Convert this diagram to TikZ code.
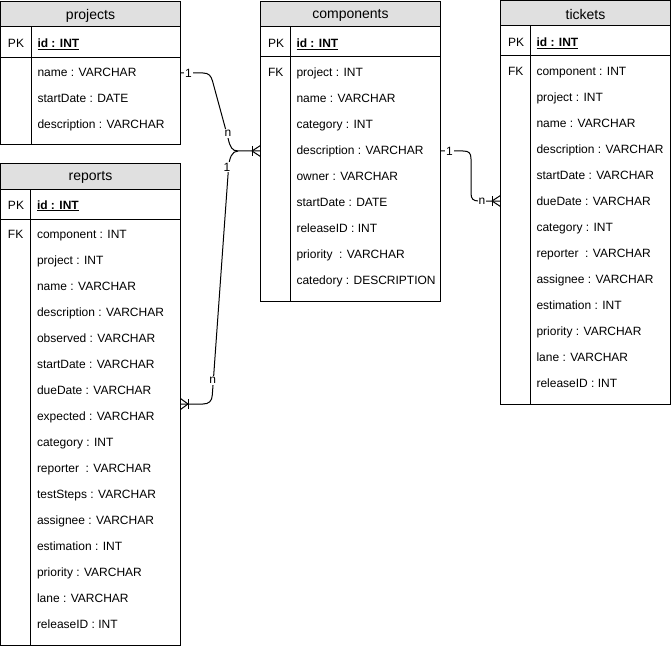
\documentclass[tikz,border=0pt]{standalone}
\usepackage{fontspec}
\setmainfont{Liberation Sans}
\definecolor{hdrgray}{HTML}{E0E0E0}
\newcommand\erfields[4]{%
  \foreach \t [count=\i from 0] in {#4}
    \node[fld] (#1-f\i) at (#2, #3+26*\i) {\t};}
\begin{document}
\begin{tikzpicture}[x=1pt,y=-1pt,line width=1pt,
  tbl/.style={draw, rectangle, inner sep=0pt, outer sep=0pt, anchor=north west},
  hdr/.style={draw, fill=hdrgray},
  ttl/.style={font=\fontsize{14}{16}\selectfont, inner sep=0pt},
  fld/.style={font=\fontsize{12}{14}\selectfont, anchor=base west, inner sep=0pt},
  keyl/.style={font=\fontsize{12}{14}\selectfont, anchor=base west, inner sep=0pt},
  lbl/.style={font=\fontsize{12}{14}\selectfont, fill=white, inner sep=1pt},
  rel/.style={draw, line width=1pt}]
\useasboundingbox (0,0) rectangle (671,647);

% ---------- projects ----------
\node[tbl, minimum width=180pt, minimum height=143.5pt] (projects) at (0.5,1.5) {};
\draw[hdr] (0.5,1.5) rectangle (180.5,27);
\draw (0.5,57.5) -- (180.5,57.5);
\draw (31,27) -- (31,145);
\node[ttl] (projects-t) at (90.5,15.5) {projects};
\node[keyl] (projects-pk) at (7.5,48) {PK};
\node[keyl] (projects-id) at (37,48) {\underline{\textbf{id : INT}}};
\erfields{projects}{37}{77}{name : VARCHAR,startDate : DATE,description : VARCHAR}

% ---------- components ----------
\node[tbl, minimum width=180pt, minimum height=299.5pt] (components) at (260.5,1.5) {};
\draw[hdr] (260.5,1.5) rectangle (440.5,27);
\draw (260.5,57) -- (440.5,57);
\draw (290,27) -- (290,301);
\node[ttl] (components-t) at (350.5,15.5) {components};
\node[keyl] (components-pk) at (267.5,47.5) {PK};
\node[keyl] (components-fk) at (267.5,76.5) {FK};
\node[keyl] (components-id) at (296,47.5) {\underline{\textbf{id : INT}}};
\erfields{components}{296}{76.5}{project : INT,name : VARCHAR,category : INT,description : VARCHAR,owner : VARCHAR,startDate : DATE,releaseID : INT,priority~ : VARCHAR,catedory : DESCRIPTION}

% ---------- tickets ----------
\node[tbl, minimum width=170pt, minimum height=403.5pt] (tickets) at (500.5,0.5) {};
\draw[hdr] (500.5,0.5) rectangle (670.5,26);
\draw (500.5,55.5) -- (670.5,55.5);
\draw (530,26) -- (530,404);
\node[ttl] (tickets-t) at (585.5,14.5) {tickets};
\node[keyl] (tickets-pk) at (507.5,46.5) {PK};
\node[keyl] (tickets-fk) at (507.5,75.5) {FK};
\node[keyl] (tickets-id) at (536,46.5) {\underline{\textbf{id : INT}}};
\erfields{tickets}{536}{75.5}{component : INT,project : INT,name : VARCHAR,description : VARCHAR,startDate : VARCHAR,dueDate : VARCHAR,category : INT,reporter~ : VARCHAR,assignee : VARCHAR,estimation : INT,priority : VARCHAR,lane : VARCHAR,releaseID : INT}

% ---------- reports ----------
\node[tbl, minimum width=180pt, minimum height=481.5pt] (reports) at (0.5,163.5) {};
\draw[hdr] (0.5,163.5) rectangle (180.5,189);
\draw (0.5,219) -- (180.5,219);
\draw (30.5,189) -- (30.5,645);
\node[ttl] (reports-t) at (90.5,177.5) {reports};
\node[keyl] (reports-pk) at (7.5,209) {PK};
\node[keyl] (reports-fk) at (7.5,238.5) {FK};
\node[keyl] (reports-id) at (36.5,209) {\underline{\textbf{id : INT}}};
\erfields{reports}{36.5}{238.5}{component : INT,project : INT,name : VARCHAR,description : VARCHAR,observed : VARCHAR,startDate : VARCHAR,dueDate : VARCHAR,expected : VARCHAR,category : INT,reporter~ : VARCHAR,testSteps : VARCHAR,assignee : VARCHAR,estimation : INT,priority : VARCHAR,lane : VARCHAR,releaseID : INT}

% ---------- connector end points ----------
\coordinate (pOut) at (projects.east |- 0,73);
\coordinate (cIn) at (components.west |- 0,151);
\coordinate (rOut) at (reports.east |- 0,404);
\coordinate (cOut) at (components.east |- 0,151);
\coordinate (tIn) at (tickets.west |- 0,201);

% projects -> components
\draw[rel] (pOut) -- (203,73) .. controls (209,73) and (211,76) .. (212.5,81)
  -- (228,138) .. controls (230,147) and (232,151) .. (238,151) -- (cIn);
% reports -> components
\draw[rel] (rOut) -- (203,404) .. controls (209,404) and (212,401) .. (212.3,395)
  -- (228.5,168) .. controls (229.2,158) and (232,151) .. (238,151);
% components -> tickets
\draw[rel] (cOut) -- (463,151) .. controls (469,151) and (471,153) .. (471,159)
  -- (471,193) .. controls (471,199) and (473,201) .. (479,201) -- (tIn);

% crow's feet
\draw ([xshift=-8.5pt,yshift=5pt]cIn) -- ([xshift=-8.5pt,yshift=-5pt]cIn);
\draw ([xshift=-8.5pt]cIn) -- ([yshift=5.5pt]cIn);
\draw ([xshift=-8.5pt]cIn) -- ([yshift=-5.5pt]cIn);
\draw ([xshift=7.5pt,yshift=5pt]rOut) -- ([xshift=7.5pt,yshift=-5pt]rOut);
\draw ([xshift=7.5pt]rOut) -- ([yshift=5.5pt]rOut);
\draw ([xshift=7.5pt]rOut) -- ([yshift=-5.5pt]rOut);
\draw ([xshift=-8.5pt,yshift=5pt]tIn) -- ([xshift=-8.5pt,yshift=-5pt]tIn);
\draw ([xshift=-8.5pt]tIn) -- ([yshift=5.5pt]tIn);
\draw ([xshift=-8.5pt]tIn) -- ([yshift=-5.5pt]tIn);

% labels
\node[lbl] (l1) at (188.5,73) {1};
\node[lbl] (l2) at (228,133.5) {n};
\node[lbl] (l3) at (227,167) {1};
\node[lbl] (l4) at (212.8,380.5) {n};
\node[lbl] (l5) at (449.5,151) {1};
\node[lbl] (l6) at (482,201) {n};
\end{tikzpicture}
\end{document}
